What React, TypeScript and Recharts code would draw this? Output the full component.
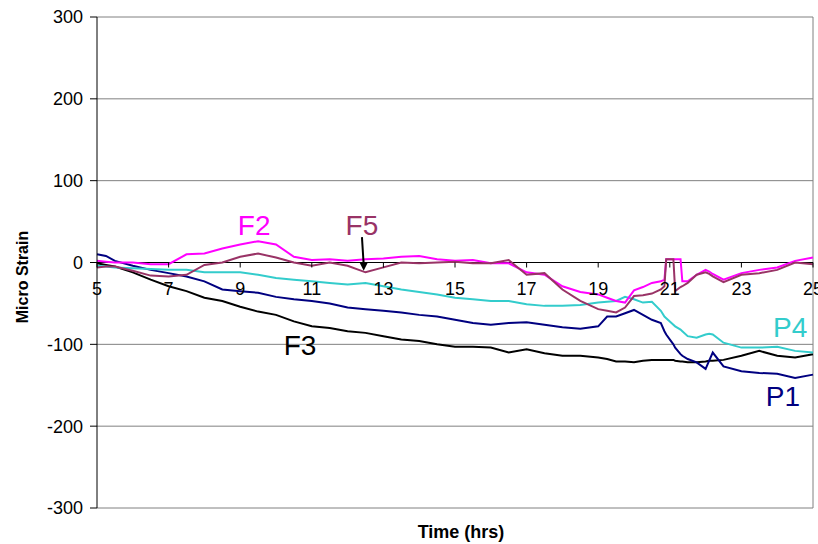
import { LineChart, Line, XAxis, YAxis, CartesianGrid, ReferenceLine, ReferenceDot } from 'recharts';

const TIME = [5, 5.25, 5.5, 6, 6.5, 7, 7.5, 8, 8.5, 9, 9.5, 10, 10.5, 11, 11.5, 12, 12.5, 13, 13.5, 14, 14.5, 15, 15.5, 16, 16.5, 17, 17.5, 18, 18.5, 19, 19.25, 19.5, 19.75, 20, 20.25, 20.5, 20.75, 20.85, 20.9, 21.1, 21.15, 21.3, 21.35, 21.5, 21.75, 22, 22.1, 22.2, 22.5, 23, 23.5, 24, 24.5, 25];

const F3 = [-1, -3, -5, -12, -21, -29, -35, -43, -47, -54, -60, -64, -72, -78, -80, -84, -86, -90, -94, -96, -100, -103, -103, -104, -110, -106, -111, -114, -114, -116, -118, -121, -121, -122, -120, -119, -119, -119, -119, -119, -120, -121, -121, -122, -122, -121, -120, -120, -119, -114, -108, -114, -116, -112];
const P1 = [10, 8, 2, -4, -9, -13, -17, -23, -33, -35, -37, -42, -45, -47, -50, -55, -57, -59, -61, -64, -66, -70, -74, -76, -74, -73, -76, -79, -81, -78, -66, -66, -62, -58, -64, -70, -74, -84, -88, -100, -104, -112, -114, -118, -122, -130, -120, -110, -127, -133, -135, -136, -141, -137];
const P4 = [-4, -5, -6, -7, -8, -9, -9, -12, -12, -12, -15, -19, -21, -23, -25, -27, -25, -29, -33, -36, -39, -43, -45, -47, -47, -51, -53, -53, -52, -49, -48, -47, -42, -45, -49, -48, -59, -66, -68, -76, -78, -82, -84, -90, -92, -88, -87, -88, -98, -104, -104, -103, -108, -110];
const F2 = [2, 1, 0, 0, -2, -2, 10, 11, 17, 22, 26, 22, 7, 3, 4, 2, 4, 5, 7, 8, 4, 2, 3, -1, -1, -12, -15, -29, -36, -39, -43, -47, -49, -34, -30, -25, -23, -21, 4, 4, 4, 4, -23, -23, -15, -9, -11, -14, -21, -13, -9, -6, 2, 6];
const F5 = [-6, -5, -5, -10, -16, -17, -15, -3, 0, 7, 11, 6, 0, -4, 0, -4, -12, -6, 0, -1, 0, 1, -1, -1, 3, -15, -13, -33, -47, -57, -59, -61, -55, -41, -40, -38, -33, -29, 4, 4, -35, -30, -29, -25, -15, -12, -14, -17, -24, -15, -13, -9, 0, -2];

const X_TICKS = [5, 7, 9, 11, 13, 15, 17, 19, 21, 23, 25];
const Y_TICKS = [-300, -200, -100, 0, 100, 200, 300];

// series label positions (time, strain)
const LABELS = [
  { name: 'F2', t: 9.39, v: 45, color: '#FF00FF' },
  { name: 'F5', t: 12.4, v: 45, color: '#993366' },
  { name: 'F3', t: 10.67, v: -101, color: '#000000' },
  { name: 'P4', t: 24.36, v: -80, color: '#33CCCC' },
  { name: 'P1', t: 24.16, v: -164, color: '#000080' },
];
const ARROW = [{ t: 12.4, v: 31 }, { t: 12.45, v: -10 }];

const data = TIME.map((t, i) => ({ t, F3: F3[i], P1: P1[i], P4: P4[i], F2: F2[i], F5: F5[i] }));

const FONT = 'Arial, "Liberation Sans", sans-serif';
const TOP = 17;
const PLOT_H = 491;
const ZERO_Y = TOP + PLOT_H / 2;

const XTick = ({ x, payload }: any) => (
  <g>
    <line x1={x} x2={x} y1={ZERO_Y} y2={ZERO_Y + 5} stroke="#000" />
    <text x={x} y={ZERO_Y + 32} textAnchor="middle" fontFamily={FONT} fontSize={18} fill="#000">
      {payload.value}
    </text>
  </g>
);

const YTitle = ({ viewBox }: any) => {
  const cx = 22;
  const cy = 277;
  return (
    <text x={cx} y={cy} transform={`rotate(-90, ${cx}, ${cy})`} textAnchor="middle" dominantBaseline="central"
      fontFamily={FONT} fontSize={16} fontWeight="bold" fill="#000">
      Micro Strain
    </text>
  );
};

const Arrow = (props: any) => {
  const { x1, y1, x2, y2 } = props;
  return (
    <g>
      <line x1={x1} y1={y1} x2={x2} y2={y2 - 6} stroke="#000" strokeWidth={2} />
      <polygon points={`${x2 - 4},${y2 - 8} ${x2 + 4},${y2 - 8} ${x2},${y2}`} fill="#000" />
    </g>
  );
};

export default function App() {
  return (
    <div style={{ position: 'absolute', left: 0, top: 0, background: '#fff' }}>
      <LineChart width={818} height={544} data={data} margin={{ top: TOP, right: 5, bottom: 0, left: 0 }}>
        <CartesianGrid vertical={false} stroke="#808080" />
        <XAxis
          dataKey="t"
          type="number"
          domain={[5, 25]}
          ticks={X_TICKS}
          height={36}
          axisLine={false}
          tickLine={false}
          tick={<XTick />}
          interval={0}
          label={{ value: 'Time (hrs)', position: 'insideBottom', offset: 6, dx: 6, fontFamily: FONT, fontSize: 18, fontWeight: 'bold', fill: '#000' }}
        />
        <YAxis
          type="number"
          domain={[-300, 300]}
          ticks={Y_TICKS}
          width={97}
          axisLine={{ stroke: '#000' }}
          tickLine={{ stroke: '#000' }}
          tickSize={7}
          tickMargin={7}
          interval={0}
          tick={{ fontFamily: FONT, fontSize: 18, fill: '#000' }}
          label={<YTitle />}
        />
        <ReferenceLine x={25} stroke="#808080" />
        <ReferenceLine y={0} stroke="#000" />
        <Line dataKey="F3" stroke="#000000" strokeWidth={2} dot={false} isAnimationActive={false} />
        <Line dataKey="P1" stroke="#000080" strokeWidth={2} dot={false} isAnimationActive={false} />
        <Line dataKey="P4" stroke="#33CCCC" strokeWidth={2} dot={false} isAnimationActive={false} />
        <Line dataKey="F2" stroke="#FF00FF" strokeWidth={2} dot={false} isAnimationActive={false} />
        <Line dataKey="F5" stroke="#993366" strokeWidth={2} dot={false} isAnimationActive={false} />
        <ReferenceLine segment={[{ x: ARROW[0].t, y: ARROW[0].v }, { x: ARROW[1].t, y: ARROW[1].v }]} shape={<Arrow />} />
        {LABELS.map((l) => (
          <ReferenceDot
            key={l.name}
            x={l.t}
            y={l.v}
            r={0}
            shape={(p: any) => (
              <text x={p.cx} y={p.cy} textAnchor="middle" dominantBaseline="central" fontFamily={FONT} fontSize={28} fill={l.color}>
                {l.name}
              </text>
            )}
          />
        ))}
      </LineChart>
    </div>
  );
}
